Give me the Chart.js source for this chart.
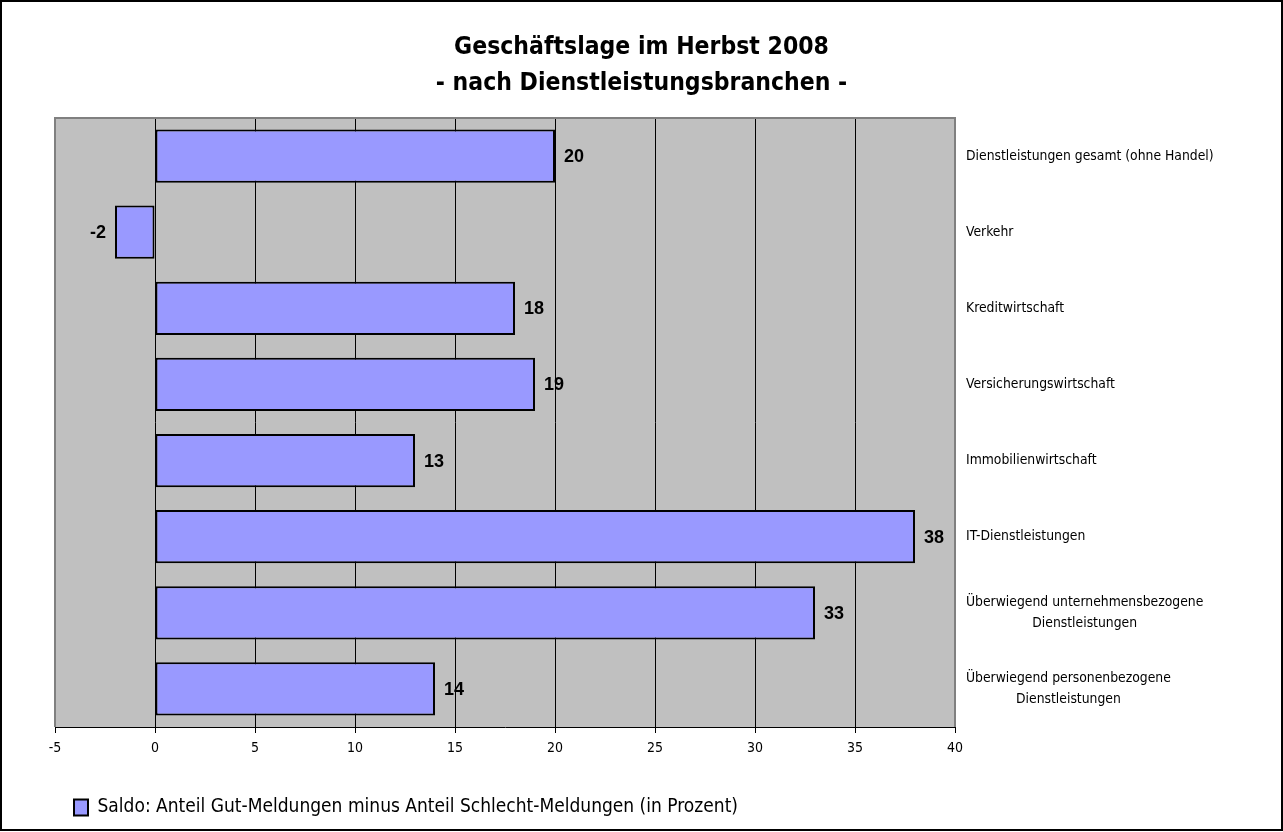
<!DOCTYPE html>
<html>
<head>
<meta charset="utf-8">
<script src="https://cdn.jsdelivr.net/npm/chart.js@4.4.1/dist/chart.umd.min.js"></script>
<style>
  html, body { margin: 0; padding: 0; background: #fff; }
  #wrap { width: 1283px; height: 832px; position: relative; }
</style>
</head>
<body>
<div id="wrap"><canvas id="c" width="1283" height="832"></canvas></div>
<script>
const titleLines = ["Geschäftslage im Herbst 2008", "- nach Dienstleistungsbranchen -"];
const categories = [
  ["Dienstleistungen gesamt (ohne Handel)"],
  ["Verkehr"],
  ["Kreditwirtschaft"],
  ["Versicherungswirtschaft"],
  ["Immobilienwirtschaft"],
  ["IT-Dienstleistungen"],
  ["Überwiegend unternehmensbezogene", "Dienstleistungen"],
  ["Überwiegend personenbezogene", "Dienstleistungen"]
];
const saldo = [20, -2, 18, 19, 13, 38, 33, 14];
const seriesName = "Saldo: Anteil Gut-Meldungen minus Anteil Schlecht-Meldungen (in Prozent)";
const xMin = -5, xMax = 40, xStep = 5;

const FONT = '"DejaVu Sans Condensed", "Liberation Sans Narrow", "Open Sans", "DejaVu Sans", sans-serif';

const framePlugin = {
  id: 'frame',
  beforeDraw(chart) {
    const ctx = chart.ctx, a = chart.chartArea;
    ctx.save();
    ctx.fillStyle = '#ffffff';
    ctx.fillRect(0, 0, chart.width, chart.height);
    ctx.fillStyle = '#C0C0C0';
    ctx.fillRect(a.left, a.top, a.right - a.left, a.bottom - a.top);
    ctx.restore();
  },
  afterDraw(chart) {
    const ctx = chart.ctx, a = chart.chartArea;
    ctx.save();
    ctx.strokeStyle = '#808080';
    ctx.lineWidth = 2;
    ctx.beginPath();
    ctx.moveTo(a.left, a.bottom);
    ctx.lineTo(a.left, a.top);
    ctx.lineTo(a.right, a.top);
    ctx.lineTo(a.right, a.bottom);
    ctx.stroke();
    ctx.strokeStyle = '#000';
    ctx.lineWidth = 2;
    ctx.strokeRect(1, 1, chart.width - 2, chart.height - 3);
    const ys = chart.scales.y;
    ctx.fillStyle = '#000';
    ctx.font = '13.8px ' + FONT;
    ctx.textBaseline = 'middle';
    const x0 = a.right + 11;
    const lh = 21;
    categories.forEach((lines, i) => {
      const yc = ys.getPixelForValue(i);
      const w0 = ctx.measureText(lines[0]).width;
      const startY = yc - (lines.length - 1) * lh / 2;
      lines.forEach((t, j) => {
        if (j === 0) {
          ctx.textAlign = 'left';
          ctx.fillText(t, x0, startY);
        } else {
          ctx.textAlign = 'center';
          ctx.fillText(t, x0 + w0 / 2, startY + j * lh);
        }
      });
    });
    const meta = chart.getDatasetMeta(0);
    ctx.font = 'bold 18px "Liberation Sans", Arial, sans-serif';
    meta.data.forEach((bar, i) => {
      const v = saldo[i];
      if (v >= 0) {
        ctx.textAlign = 'left';
        ctx.fillText(String(v), bar.x + 9, bar.y + 1);
      } else {
        ctx.textAlign = 'right';
        ctx.fillText(String(v), bar.x - 9, bar.y + 1);
      }
    });
    ctx.restore();
  }
};

new Chart(document.getElementById('c'), {
  type: 'bar',
  data: {
    labels: categories,
    datasets: [{
      label: seriesName,
      data: saldo,
      backgroundColor: '#9999FF',
      borderColor: '#000000',
      borderWidth: 2,
      borderSkipped: false,
      barPercentage: 0.7,
      categoryPercentage: 1.0
    }]
  },
  options: {
    indexAxis: 'y',
    responsive: false,
    animation: false,
    devicePixelRatio: 1,
    layout: { padding: { left: 55, right: 55, top: 18, bottom: 5 } },
    scales: {
      x: {
        type: 'linear',
        min: xMin, max: xMax,
        ticks: {
          stepSize: xStep,
          color: '#000',
          font: { size: 14, family: FONT },
          padding: 7
        },
        grid: {
          color: (c) => (c.tick && (c.tick.value === xMin || c.tick.value === xMax)) ? 'rgba(0,0,0,0)' : '#000',
          tickColor: '#000',
          tickLength: 6,
          lineWidth: 1
        },
        border: { display: true, color: '#000', width: 1 },
        afterFit(scale) { scale.height = 52; }
      },
      y: {
        type: 'category',
        position: 'right',
        ticks: { display: false },
        grid: { display: false },
        border: { display: false },
        afterFit(scale) { scale.width = 273; }
      }
    },
    plugins: {
      title: {
        display: true,
        text: titleLines,
        color: '#000',
        font: { size: 24.5, weight: 'bold', family: FONT, lineHeight: 1.45 },
        padding: { top: 12, bottom: 17 }
      },
      legend: {
        display: true,
        position: 'bottom',
        align: 'start',
        labels: {
          boxWidth: 14,
          boxHeight: 16,
          padding: 19,
          color: '#000',
          font: { size: 19, family: FONT }
        }
      },
      tooltip: { enabled: false }
    }
  },
  plugins: [framePlugin]
});
</script>
</body>
</html>
